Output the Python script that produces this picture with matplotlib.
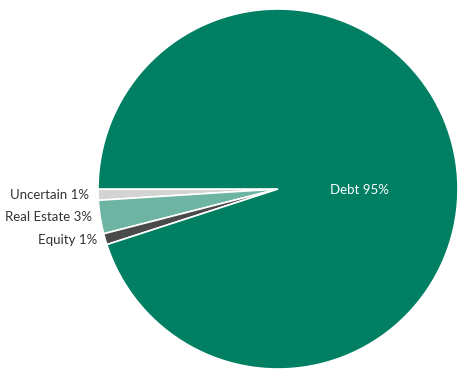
import matplotlib
matplotlib.use("Agg")
import matplotlib.pyplot as plt

# slice data, drawn from 180 degrees going counter-clockwise
labels = ["Uncertain", "Real Estate", "Equity", "Debt"]
values = [1, 3, 1, 95]
colors = ["#d3d3d3", "#6db5a2", "#4a4a4a", "#007f63"]

W, H = 466, 384
cx, cy, R = 278, 189, 180  # pie centre / radius in pixels

fig = plt.figure(figsize=(W / 100, H / 100), dpi=100)
ax = fig.add_axes([0, 0, 1, 1])
ax.pie(values, colors=colors, startangle=180, counterclock=True,
       radius=1, center=(0, 0),
       wedgeprops=dict(edgecolor="white", linewidth=1.2))
ax.set_xlim(-cx / R, (W - cx) / R)
ax.set_ylim(-(H - cy) / R, cy / R)
ax.set_aspect("equal")
ax.axis("off")

def px(x, y):
    """pixel position -> data coords"""
    return (x - cx) / R, (cy - y) / R

# outside labels for the small slices
label_pos = [(89, 195), (92, 217), (97, 240)]
for name, v, (x, y) in zip(labels[:3], values[:3], label_pos):
    ax.text(*px(x, y), f"{name} {v}%", ha="right", va="center",
            fontsize=9.5, family="Lato", color="#333333")

ax.text(*px(359, 190), f"{labels[3]} {values[3]}%", ha="center", va="center",
        fontsize=9.5, family="Lato", color="white")

fig.savefig("out.png", dpi=100)
